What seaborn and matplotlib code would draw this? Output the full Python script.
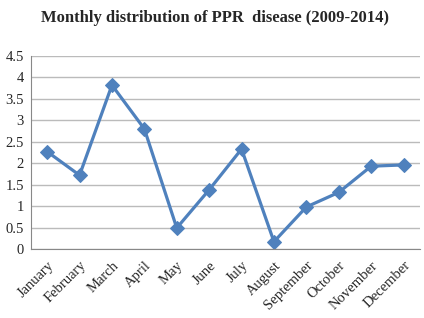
import matplotlib
matplotlib.use("Agg")
import matplotlib.pyplot as plt
import seaborn as sns
import pandas as pd
import numpy as np

months = ["January", "February", "March", "April", "May", "June", "July",
          "August", "September", "October", "November", "December"]
values = [2.27, 1.72, 3.82, 2.80, 0.49, 1.38, 2.33, 0.17, 0.98, 1.32, 1.93, 1.96]
yticks = [0, 0.5, 1, 1.5, 2, 2.5, 3, 3.5, 4, 4.5]
ytick_labels = ["0", "0.5", "1", "1.5", "2", "2.5", "3", "3.5", "4", "4.5"]
title = "Monthly distribution of PPR  disease (2009-2014)"

sns.set_style("white")
plt.rcParams['font.family'] = ['Liberation Serif', 'DejaVu Serif']

df = pd.DataFrame({"month": months, "value": values, "pos": np.arange(len(months))})

fig = plt.figure(figsize=(4.24, 3.18), dpi=100)
ax = fig.add_axes([0.073, 0.217, 0.917, 0.607])

sns.lineplot(data=df, x="pos", y="value", ax=ax, color="#4F81BD", linewidth=2.3,
             marker="D", markersize=7, markeredgecolor="#4F81BD")

ax.set_xlim(-0.5, len(months) - 0.5)
ax.set_ylim(0, 4.5)
ax.set_yticks(yticks)
ax.set_yticklabels(ytick_labels, fontsize=10.5)
ax.set_xticks(np.arange(len(months)))
ax.set_xticklabels(months, rotation=45, ha="right", rotation_mode="anchor", fontsize=10.5)
ax.set_xticks(np.arange(-0.5, len(months)), minor=True)
ax.tick_params(axis="x", which="major", length=0, pad=7)
ax.tick_params(axis="x", which="minor", length=4, color="#888888", width=0.8)
ax.tick_params(axis="y", length=3, color="#888888", width=0.8, pad=2)
ax.grid(axis="y", color="#BBBBBB", linewidth=1)
ax.set_axisbelow(True)
for s in ["top", "right"]:
    ax.spines[s].set_visible(False)
for s in ["left", "bottom"]:
    ax.spines[s].set_color("#888888")
    ax.spines[s].set_linewidth(0.8)
ax.set_xlabel("")
ax.set_ylabel("")

fig.text(0.507, 0.943, title, ha="center", va="center", fontsize=12, fontweight="bold")

fig.savefig("out.png", dpi=100)
